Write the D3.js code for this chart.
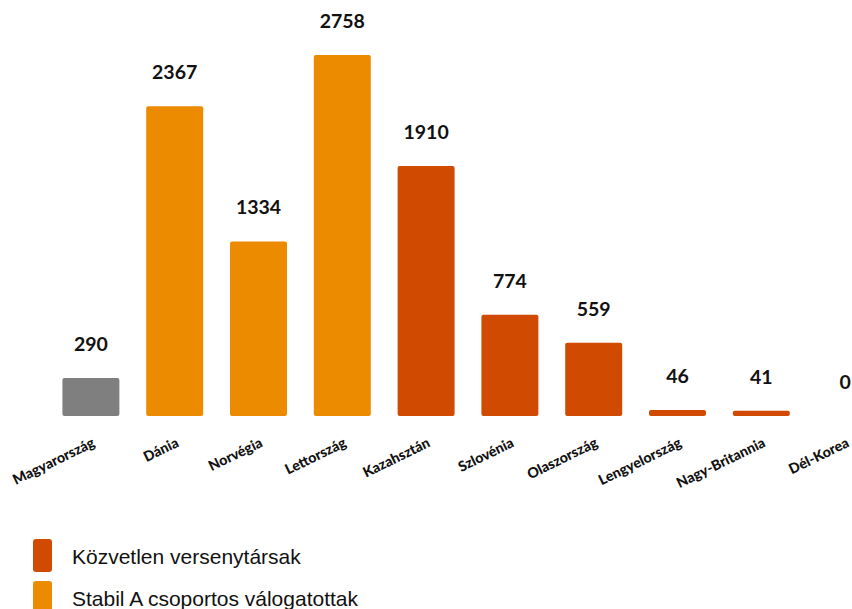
<!DOCTYPE html>
<html><head><meta charset="utf-8">
<script src="https://cdn.jsdelivr.net/npm/d3@7"></script>
<style>body{margin:0;background:#fff;}svg{display:block;}</style>
</head><body>
<script>
const categories = ["Magyarország","Dánia","Norvégia","Lettország","Kazahsztán","Szlovénia","Olaszország","Lengyelország","Nagy-Britannia","Dél-Korea"];
const values = [290,2367,1334,2758,1910,774,559,46,41,0];
const groups = ["hu","stable","stable","stable","direct","direct","direct","direct","direct","direct"];
const legendLabels = ["Közvetlen versenytársak","Stabil A csoportos válogatottak"];
const colors = {hu:"#7F7F7F", stable:"#EC8B00", direct:"#D04A02"};

const W=852,H=609;
const svg=d3.select("body").append("svg").attr("width",W).attr("height",H);
const base=416;
const x=d3.scaleBand().domain(categories).range([49,887]).paddingInner(0.32).paddingOuter(0.16);
const y=d3.scaleLinear().domain([0,2758]).range([base,55]);

svg.selectAll("rect.bar").data(values).join("rect").attr("class","bar")
  .attr("x",(d,i)=>x(categories[i])).attr("width",x.bandwidth())
  .attr("y",d=>y(d)).attr("height",d=>base-y(d))
  .attr("rx",2).attr("fill",(d,i)=>colors[groups[i]]);

svg.selectAll("text.val").data(values).join("text").attr("class","val")
  .attr("x",(d,i)=>x(categories[i])+x.bandwidth()/2).attr("y",d=>y(d)-27)
  .attr("text-anchor","middle").attr("font-family","Lato").attr("font-weight","bold")
  .attr("font-size",19.5).attr("fill","#111").text(d=>d);

svg.selectAll("text.cat").data(categories).join("text").attr("class","cat")
  .attr("transform",(d)=>`translate(${x(d)+x.bandwidth()/2+5},446) rotate(-26)`)
  .attr("text-anchor","end").attr("font-family","Lato").attr("font-weight","900")
  .attr("font-size",14.2).attr("fill","#111").text(d=>d);

const lg=svg.selectAll("g.lg").data(legendLabels).join("g").attr("class","lg")
  .attr("transform",(d,i)=>`translate(33,${539+i*42})`);
lg.append("rect").attr("width",19).attr("height",33).attr("rx",3)
  .attr("fill",(d,i)=>i===0?colors.direct:colors.stable);
lg.append("text").attr("x",39).attr("y",24.5).attr("font-family","Liberation Sans")
  .attr("font-size",21).attr("fill","#111").text(d=>d);
</script>
</body></html>
